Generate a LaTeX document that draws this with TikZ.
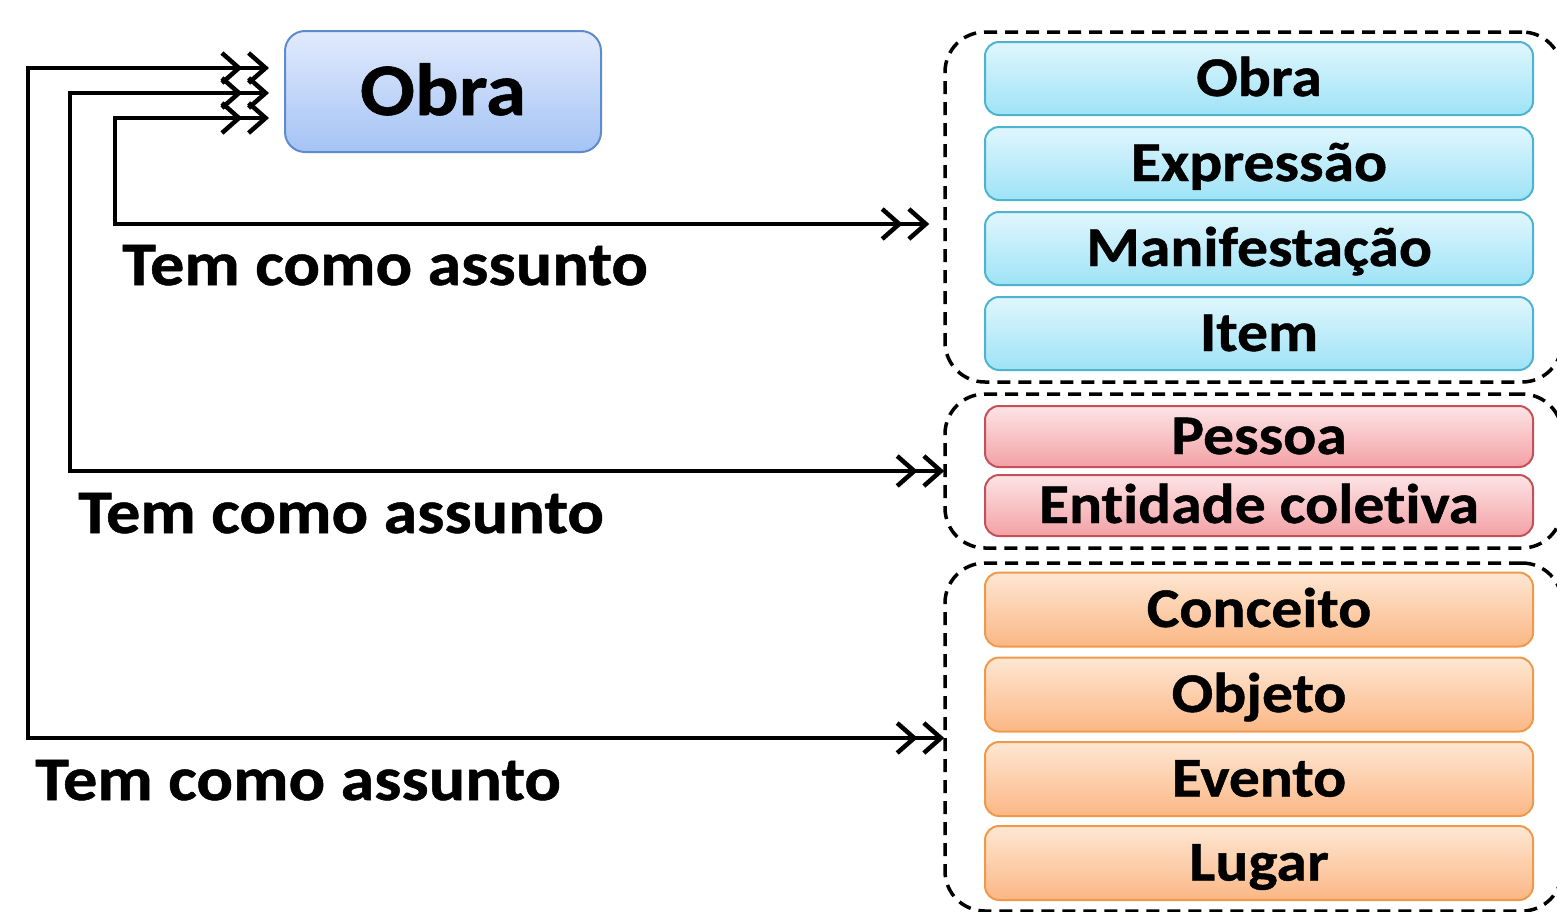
\documentclass[tikz,border=0pt]{standalone}
\usepackage{fontspec}
\setmainfont{Carlito}[FakeStretch=1.1, FakeBold=0.8, Ligatures={NoCommon,NoRare,NoContextual}]
\usetikzlibrary{arrows.meta}
\definecolor{bigtop}{HTML}{E2EBFC}
\definecolor{bigbot}{HTML}{A4C3F5}
\definecolor{bigbrd}{HTML}{5F8ACB}
\definecolor{cytop}{HTML}{E0F6FD}
\definecolor{cybot}{HTML}{9EE3F7}
\definecolor{cybrd}{HTML}{4DB4D0}
\definecolor{rdtop}{HTML}{FDE4E5}
\definecolor{rdbot}{HTML}{F3A1A6}
\definecolor{rdbrd}{HTML}{C4515A}
\definecolor{ortop}{HTML}{FEE7D3}
\definecolor{orbot}{HTML}{FBB785}
\definecolor{orbrd}{HTML}{EF9A4B}
\begin{document}
\begin{tikzpicture}[x=1pt,y=-1pt,
  entbox/.style={draw, line width=2pt, rounded corners=14pt, minimum width=548pt,
     font=\fontsize{56}{58}\selectfont\bfseries, inner sep=0pt, text height=35pt, text depth=0pt},
  cyanbox/.style={entbox, draw=cybrd, top color=cytop, bottom color=cybot, minimum height=73pt},
  redbox/.style={entbox, draw=rdbrd, top color=rdtop, bottom color=rdbot, minimum height=61pt},
  orbox/.style={entbox, draw=orbrd, top color=ortop, bottom color=orbot, minimum height=74pt},
  group/.style={draw, dashed, dash pattern=on 13pt off 8pt, line width=3.5pt, rounded corners=40pt,
     minimum width=617pt, inner sep=0pt},
  link/.style={line width=4.5pt, >={Straight Barb[length=17pt,width=30pt,sep=4pt]}, <<->>},
  lbl/.style={anchor=base west, font=\fontsize{62}{64}\selectfont\bfseries, inner sep=0pt}
]
\useasboundingbox (0,0) rectangle (1557,911);
\clip (0,0) rectangle (1557,911);

\node[draw=bigbrd, line width=2pt, rounded corners=20pt, top color=bigtop, bottom color=bigbot,
      minimum width=316pt, minimum height=121pt, inner sep=0pt, text height=47pt, text depth=0pt,
      font=\fontsize{74}{76}\selectfont\bfseries]
      (obra) at (443,91.5) {Obra};

\node[group, minimum height=350pt] (g1) at (1253.5,207) {};
\node[group, minimum height=154pt] (g2) at (1253.5,471) {};
\node[group, minimum height=348pt] (g3) at (1253.5,737) {};

\node[cyanbox] (w) at (1259,78.5) {Obra};
\node[cyanbox] (e) at (1259,163.5) {Expressão};
\node[cyanbox] (m) at (1259,248.5) {Manifestação};
\node[cyanbox] (i) at (1259,333.5) {Item};

\node[redbox] (p) at (1259,436.5) {Pessoa};
\node[redbox] (c) at (1259,505.5) {Entidade coletiva};

\node[orbox] (co) at (1259,609.5) {Conceito};
\node[orbox] (ob) at (1259,694.5) {Objeto};
\node[orbox] (ev) at (1259,779) {Evento};
\node[orbox] (lu) at (1259,863) {Lugar};

\coordinate (t1) at ([xshift=-11pt]obra.west |- 0,118);
\coordinate (t2) at ([xshift=-11pt]obra.west |- 0,93);
\coordinate (t3) at ([xshift=-11pt]obra.west |- 0,68);
\coordinate (e1) at ([xshift=-10pt]g1.west |- 0,224);
\coordinate (e2) at ([xshift=5pt]g2.west |- 0,471);
\coordinate (e3) at ([xshift=5pt]g3.west |- 0,738);

\draw[link] (t1) -- (115,118) -- (115,224) -- (e1);
\draw[link] (t2) -- (70,93) -- (70,471) -- (e2);
\draw[link] (t3) -- (28,68) -- (28,738) -- (e3);

\node[lbl] (l1) at (122,285) {Tem como assunto};
\node[lbl] (l2) at (78,533) {Tem como assunto};
\node[lbl] (l3) at (35,800) {Tem como assunto};
\end{tikzpicture}
\end{document}
